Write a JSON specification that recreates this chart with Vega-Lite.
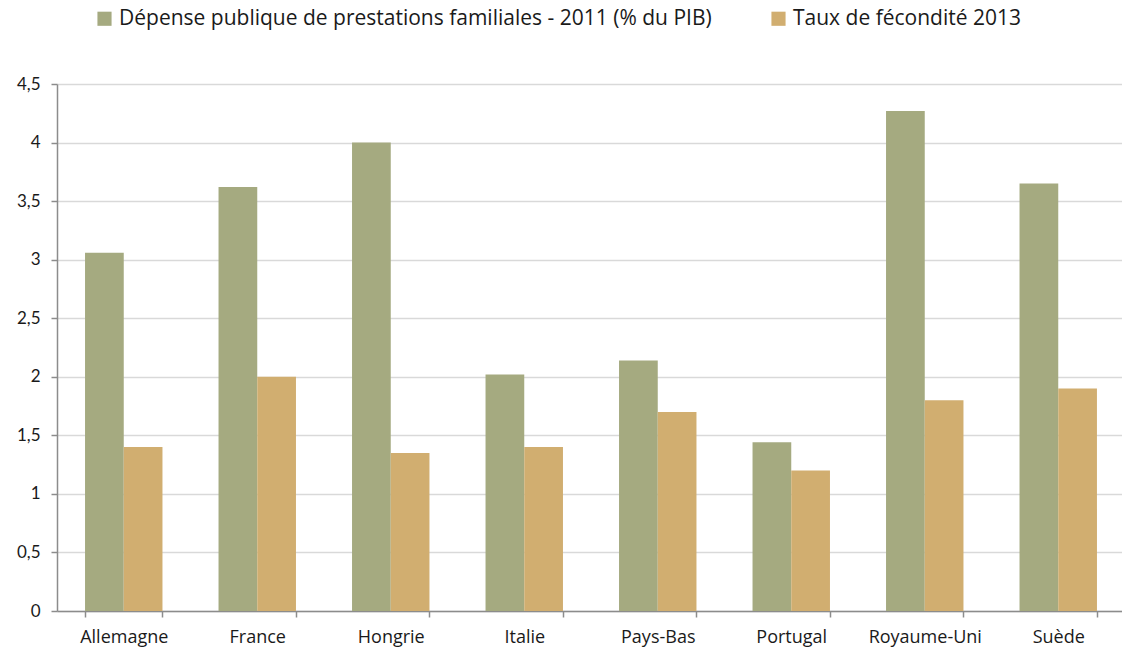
{
  "$schema": "https://vega.github.io/schema/vega-lite/v6.json",
  "autosize": {"type": "none"},
  "padding": {"left": 57, "top": 84, "right": 0, "bottom": 39},
  "width": 1068,
  "height": 527,
  "background": "white",
  "data": {
    "values": [
      {"pays": "Allemagne", "serie": "Dépense publique de prestations familiales - 2011 (% du PIB)", "valeur": 3.06},
      {"pays": "Allemagne", "serie": "Taux de fécondité 2013", "valeur": 1.40},
      {"pays": "France", "serie": "Dépense publique de prestations familiales - 2011 (% du PIB)", "valeur": 3.62},
      {"pays": "France", "serie": "Taux de fécondité 2013", "valeur": 2.00},
      {"pays": "Hongrie", "serie": "Dépense publique de prestations familiales - 2011 (% du PIB)", "valeur": 4.00},
      {"pays": "Hongrie", "serie": "Taux de fécondité 2013", "valeur": 1.35},
      {"pays": "Italie", "serie": "Dépense publique de prestations familiales - 2011 (% du PIB)", "valeur": 2.02},
      {"pays": "Italie", "serie": "Taux de fécondité 2013", "valeur": 1.40},
      {"pays": "Pays-Bas", "serie": "Dépense publique de prestations familiales - 2011 (% du PIB)", "valeur": 2.14},
      {"pays": "Pays-Bas", "serie": "Taux de fécondité 2013", "valeur": 1.70},
      {"pays": "Portugal", "serie": "Dépense publique de prestations familiales - 2011 (% du PIB)", "valeur": 1.44},
      {"pays": "Portugal", "serie": "Taux de fécondité 2013", "valeur": 1.20},
      {"pays": "Royaume-Uni", "serie": "Dépense publique de prestations familiales - 2011 (% du PIB)", "valeur": 4.27},
      {"pays": "Royaume-Uni", "serie": "Taux de fécondité 2013", "valeur": 1.80},
      {"pays": "Suède", "serie": "Dépense publique de prestations familiales - 2011 (% du PIB)", "valeur": 3.65},
      {"pays": "Suède", "serie": "Taux de fécondité 2013", "valeur": 1.90}
    ]
  },
  "mark": {"type": "bar"},
  "encoding": {
    "x": {
      "field": "pays",
      "type": "nominal",
      "sort": null,
      "scale": {"paddingInner": 0.42, "paddingOuter": 0.21},
      "axis": {
        "title": null,
        "labelAngle": 0,
        "tickBand": "extent",
        "tickSize": 6,
        "tickColor": "#8C8C8C",
        "tickWidth": 1.5,
        "domainColor": "#8C8C8C",
        "domainWidth": 1.5,
        "labelFont": "Open Sans",
        "labelFontSize": 18,
        "labelColor": "#1a1a1a",
        "labelPadding": 11,
        "grid": false
      }
    },
    "xOffset": {"field": "serie", "type": "nominal", "sort": null, "scale": {"paddingInner": 0, "paddingOuter": 0}},
    "y": {
      "field": "valeur",
      "type": "quantitative",
      "scale": {"domain": [0, 4.5], "nice": false},
      "axis": {
        "title": null,
        "values": [0, 0.5, 1, 1.5, 2, 2.5, 3, 3.5, 4, 4.5],
        "labelExpr": "replace(format(datum.value, '~g'), '.', ',')",
        "tickSize": 6,
        "tickColor": "#8C8C8C",
        "tickWidth": 1.5,
        "domainColor": "#8C8C8C",
        "domainWidth": 1.5,
        "gridColor": "#D9D9D9",
        "gridWidth": 1.5,
        "labelFont": "Lato",
        "labelFontSize": 17,
        "labelColor": "#1a1a1a",
        "labelPadding": 11
      }
    },
    "color": {
      "field": "serie",
      "type": "nominal",
      "sort": null,
      "scale": {"range": ["#A5AA80", "#D1AE70"]},
      "legend": {
        "title": null,
        "orient": "none",
        "legendX": 37,
        "legendY": -76,
        "direction": "horizontal",
        "columns": 2,
        "columnPadding": 56,
        "symbolType": "square",
        "symbolSize": 200,
        "symbolStrokeWidth": 0,
        "labelFont": "Open Sans",
        "labelFontSize": 21,
        "labelColor": "#1a1a1a",
        "labelLimit": 900,
        "labelOffset": 4
      }
    }
  },
  "config": {
    "view": {"stroke": null},
    "axis": {"gridCap": "butt"}
  }
}
